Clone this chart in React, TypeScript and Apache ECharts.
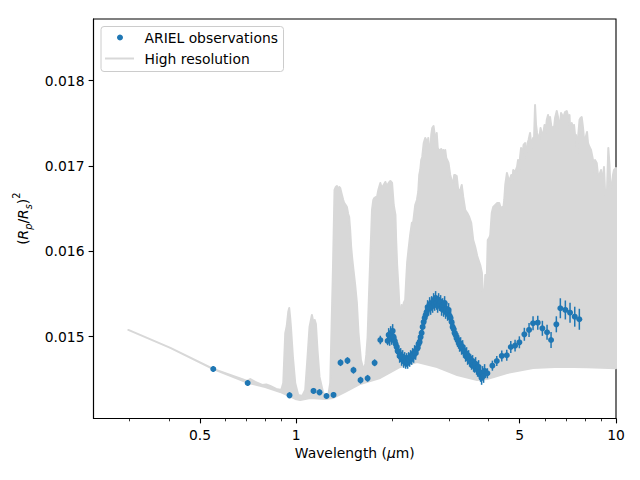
import React, { useEffect, useRef } from "react";
import * as echarts from "echarts";

// ---------- data ----------
const obsWavelength = [
  0.5503, 0.705, 0.9529, 1.1326, 1.1826, 1.2437, 1.3081, 1.3757, 1.4464, 1.5102, 1.589, 1.6718, 1.7584, 1.8323, 1.9316,
  1.9457, 1.9597, 1.9739, 1.9881, 2.0025, 2.0169, 2.0315, 2.0461, 2.0609, 2.0758, 2.0907, 2.1058, 2.121, 2.1363, 2.1518,
  2.1673, 2.1829, 2.1987, 2.2146, 2.2305, 2.2466, 2.2629, 2.2792, 2.2956, 2.3122, 2.3289, 2.3457, 2.3627, 2.3797, 2.3969,
  2.4142, 2.4317, 2.4492, 2.4669, 2.4847, 2.5027, 2.5207, 2.5389, 2.5573, 2.5757, 2.5943, 2.6131, 2.632, 2.651, 2.6701,
  2.6894, 2.7088, 2.7284, 2.7481, 2.768, 2.788, 2.8081, 2.8284, 2.8488, 2.8694, 2.8901, 2.911, 2.932, 2.9533, 2.9746,
  2.9961, 3.0177, 3.0395, 3.0615, 3.0836, 3.1059, 3.1283, 3.1509, 3.1737, 3.1966, 3.2197, 3.243, 3.2664, 3.29, 3.3138,
  3.3377, 3.3618, 3.3861, 3.4105, 3.4352, 3.46, 3.485, 3.5101, 3.5355, 3.561, 3.5867, 3.6126, 3.6387, 3.6649, 3.6914,
  3.7181, 3.7449, 3.772, 3.7992, 3.8266, 3.8543, 3.8821,
  3.9612, 4.1066, 4.2383, 4.3938, 4.5545, 4.6877, 4.835, 4.987, 5.169, 5.347, 5.503, 5.693, 5.885, 6.087, 6.265, 6.508,
  6.698, 6.944, 7.182, 7.43, 7.68,
];
const obsDepth = [
  0.014621, 0.014457, 0.014313, 0.014364, 0.014348, 0.014305, 0.014317, 0.014695, 0.014719, 0.014607, 0.01449, 0.014512,
  0.014694, 0.014961, 0.01495,
  0.01502, 0.014973, 0.015043, 0.014985, 0.015067, 0.014996, 0.01495, 0.014914, 0.014879, 0.014832, 0.014821, 0.014774,
  0.014786, 0.014739, 0.014762, 0.014715, 0.014739, 0.014704, 0.014727, 0.014704, 0.014739, 0.014727, 0.014762, 0.01475,
  0.014786, 0.014774, 0.014821, 0.014809, 0.014856, 0.014868, 0.014914, 0.014938, 0.014996, 0.015043, 0.015114, 0.015172,
  0.015219, 0.015254, 0.015289, 0.015348, 0.015325, 0.015383, 0.015336, 0.015395, 0.01536, 0.01543, 0.015383, 0.015454,
  0.015395, 0.01536, 0.01543, 0.015383, 0.015407, 0.015325, 0.015371, 0.015313, 0.015395, 0.015289, 0.015325, 0.015266,
  0.015313, 0.015243, 0.015219, 0.015172, 0.015114, 0.01509, 0.015043, 0.01502, 0.014985, 0.014961, 0.014938, 0.014903,
  0.014914, 0.014868, 0.014879, 0.014832, 0.014821, 0.014786, 0.014797, 0.01475, 0.014762, 0.014727, 0.014715, 0.014692,
  0.014704, 0.014668, 0.014657, 0.01468, 0.014633, 0.01461, 0.014645, 0.014586, 0.014551, 0.014516, 0.014575, 0.014539,
  0.014598,
  0.014571, 0.01466, 0.014715, 0.014774, 0.014782, 0.014879, 0.014895, 0.014934, 0.015028, 0.015079, 0.015157, 0.015164,
  0.015098, 0.015052, 0.014961, 0.015145, 0.015333, 0.015313, 0.015281, 0.015234, 0.015204,
];
const obsError = [
  0.000035, 0.000035, 0.000035, 0.000035, 0.000035, 0.000035, 0.000035, 0.00004, 0.00004, 0.00004, 0.00004, 0.00004,
  0.00004, 0.00005, 0.00005,
  0.00008, 0.00008, 0.00008, 0.00008, 0.00008, 0.00008, 0.00008, 0.00008, 0.00008, 0.00008, 0.00008, 0.00008, 0.00008,
  0.00008, 0.00008, 0.00008, 0.00008, 0.00008, 0.00008, 0.00008, 0.00008, 0.00008, 0.00008, 0.00008, 0.00008, 0.00008,
  0.00008, 0.00008, 0.00008, 0.00008, 0.00008, 0.00008, 0.00008, 0.00008, 0.00008, 0.00008, 0.00008, 0.00008, 0.00008,
  0.00008, 0.00008, 0.00008, 0.00008, 0.00008, 0.00008, 0.00008, 0.00008, 0.00008, 0.00008, 0.00008, 0.00008, 0.00008,
  0.00008, 0.00008, 0.00008, 0.00008, 0.00008, 0.00008, 0.00008, 0.00008, 0.00008, 0.00008, 0.00008, 0.00008, 0.00008,
  0.00008, 0.00008, 0.00008, 0.00008, 0.00008, 0.00008, 0.00008, 0.00008, 0.00008, 0.00008, 0.00008, 0.00008, 0.00008,
  0.00008, 0.00008, 0.00008, 0.00008, 0.00008, 0.00008, 0.00008, 0.00008, 0.00008, 0.00008, 0.00008, 0.00008, 0.00008,
  0.00008, 0.00008, 0.00008, 0.00008, 0.00008, 0.00008,
  0.000059, 0.000059, 0.000059, 0.000064, 0.000064, 0.00007, 0.00007, 0.00007, 0.000076, 0.000082, 0.000082, 0.000082,
  0.000088, 0.000088, 0.000094, 0.000094, 0.000117, 0.000111, 0.000117, 0.000117, 0.000123,
];

// High-resolution spectrum: upper and lower envelope of the dense line
const hiresUpperWavelength = [
  0.2985, 0.404, 0.5503, 0.703, 0.7182, 0.7446, 0.783, 0.8058, 0.8292, 0.866, 0.8977, 0.9108, 0.924, 0.934, 0.9441,
  0.9509, 0.9577, 0.9626, 0.9765, 0.9928, 1.0145, 1.0441, 1.0669, 1.0847, 1.1004, 1.1196, 1.1326, 1.1424, 1.1523,
  1.1657, 1.1826, 1.2144, 1.2589, 1.2774, 1.3025, 1.31, 1.3176, 1.3291, 1.3406, 1.3532, 1.363, 1.3728, 1.3898, 1.403,
  1.4125, 1.428, 1.4403, 1.4537, 1.4642, 1.4747, 1.4854, 1.4962, 1.5102, 1.5289, 1.5479, 1.566, 1.5936, 1.6241, 1.6443,
  1.6562, 1.6718, 1.6864, 1.7047, 1.717, 1.7257, 1.742, 1.7546, 1.7737, 1.7891, 1.8061, 1.8323, 1.8522, 1.8764, 1.8997,
  1.9203, 1.9456, 1.9698, 1.9944, 2.0179, 2.0431, 2.0535, 2.0683, 2.0878, 2.1059, 2.1212, 2.1365, 2.1519, 2.1675,
  2.1912, 2.207, 2.2229, 2.2439, 2.2716, 2.2998, 2.3216, 2.3554, 2.3846, 2.4072, 2.4246, 2.4421, 2.4597, 2.4775, 2.5045,
  2.5318, 2.5501, 2.5685, 2.5871, 2.6058, 2.6246, 2.6436, 2.6627, 2.6877, 2.711, 2.7306, 2.7503, 2.7702, 2.7902, 2.8206,
  2.841, 2.8615, 2.8822, 2.903, 2.924, 2.9451, 2.9663, 2.9943, 3.0312, 3.0641, 3.0974, 3.1198, 3.1423, 3.1764, 3.2109,
  3.2575, 3.2928, 3.3286, 3.3769, 3.4259, 3.4756, 3.526, 3.5771, 3.629, 3.6817, 3.7162, 3.762, 3.8085, 3.8445, 3.8723,
  3.9003, 3.9426, 3.9711, 4.0141, 4.0431, 4.087, 4.1313, 4.1912, 4.252, 4.3137, 4.3605, 4.4077, 4.4396, 4.4717, 4.504,
  4.5595, 4.6026, 4.6524, 4.7028, 4.7367, 4.771, 4.835, 4.904, 4.94, 4.976, 5.012, 5.048, 5.085, 5.14, 5.195, 5.252,
  5.29, 5.328, 5.386, 5.444, 5.503, 5.543, 5.583, 5.623, 5.664, 5.746, 5.809, 5.872, 5.927, 5.978, 6.021, 6.074, 6.131,
  6.197, 6.22, 6.287, 6.355, 6.401, 6.447, 6.527, 6.588, 6.66, 6.732, 6.781, 6.83, 6.879, 6.929, 7.014, 7.08, 7.156,
  7.208, 7.271, 7.339, 7.392, 7.446, 7.499, 7.553, 7.608, 7.69, 7.746, 7.813, 7.887, 7.972, 8.058, 8.117, 8.175, 8.264,
  8.354, 8.414, 8.475, 8.536, 8.598, 8.703, 8.785, 8.849, 8.913, 8.977, 9.042, 9.107, 9.173, 9.239, 9.306, 9.373, 9.461,
  9.543, 9.612, 9.695, 9.786, 9.857, 10.0,
];
const hiresUpperDepth = [
  0.015079, 0.014868, 0.014621, 0.014481, 0.014504, 0.014469, 0.014434, 0.01444, 0.014422, 0.014387, 0.014376, 0.014457,
  0.01504, 0.015125, 0.015289, 0.015336, 0.015219, 0.015114, 0.014762, 0.014457, 0.014317, 0.014305, 0.014376, 0.014762,
  0.015114, 0.015254, 0.015161, 0.015196, 0.015149, 0.014844, 0.014528, 0.01434, 0.014305, 0.014457, 0.015782, 0.016251,
  0.016719, 0.016754, 0.016766, 0.016719, 0.016754, 0.016743, 0.016661, 0.016602, 0.016567, 0.016543, 0.01652, 0.016438,
  0.016403, 0.016251, 0.016051, 0.015922, 0.015782, 0.015606, 0.015395, 0.015043, 0.014727, 0.01461, 0.01468, 0.014786,
  0.014996, 0.01543, 0.015934, 0.016251, 0.016485, 0.016602, 0.016625, 0.016637, 0.016637, 0.016719, 0.016801,
  0.016743, 0.016778, 0.016813, 0.016766, 0.016801, 0.016825, 0.016801, 0.016543, 0.016426, 0.016133, 0.01584,
  0.015582, 0.015313, 0.015219, 0.015371, 0.015219, 0.015395, 0.01543, 0.015665, 0.015875, 0.016016, 0.016192,
  0.016333, 0.016344, 0.016543, 0.016602, 0.016696, 0.016895, 0.016953, 0.017071, 0.017106, 0.01727, 0.017329,
  0.017305, 0.017165, 0.017329, 0.017188, 0.017153, 0.017364, 0.017446, 0.017469, 0.017364, 0.01727, 0.017387,
  0.017212, 0.017188, 0.017188, 0.0172, 0.017165, 0.017188, 0.017071, 0.017188, 0.017094, 0.017071, 0.017036,
  0.016895, 0.016825, 0.016813, 0.016895, 0.016895, 0.016883, 0.016719, 0.016719, 0.016778, 0.016637, 0.016485,
  0.01645, 0.016403, 0.016333, 0.016133, 0.016051, 0.015946, 0.015899, 0.01584, 0.015747, 0.01543, 0.015395, 0.015723,
  0.015665, 0.016133, 0.016157, 0.016192, 0.01645, 0.01652, 0.016543, 0.016567, 0.016567, 0.016508, 0.01652, 0.016497,
  0.016602, 0.016778, 0.016918, 0.01686, 0.016836, 0.016895, 0.016801, 0.016953, 0.01693, 0.016989, 0.017071, 0.016918,
  0.017106, 0.017212, 0.017094, 0.017247, 0.01727, 0.017094, 0.01727, 0.017305, 0.017387, 0.017212, 0.017329, 0.017329,
  0.017715, 0.017481, 0.017387, 0.017305, 0.017446, 0.017364, 0.017387, 0.017481, 0.017375, 0.017539, 0.017598,
  0.017446, 0.017574, 0.017446, 0.017457, 0.017446, 0.017563, 0.017645, 0.017574, 0.017422, 0.017621, 0.017598,
  0.017481, 0.017598, 0.017633, 0.017645, 0.017586, 0.017598, 0.017305, 0.017504, 0.017457, 0.017481, 0.017364,
  0.017364, 0.01713, 0.017329, 0.017539, 0.017563, 0.017574, 0.017446, 0.017247, 0.017352, 0.017399, 0.01727, 0.017223,
  0.017188, 0.01713, 0.017071, 0.01693, 0.017071, 0.017036, 0.016895, 0.01686, 0.016918, 0.016953, 0.016836, 0.016883,
  0.016989, 0.016719, 0.016649, 0.016719, 0.017212, 0.017012, 0.016743, 0.016754, 0.016895, 0.016953, 0.016977,
];
const hiresLowerWavelength = [
  0.2985, 0.404, 0.5503, 0.703, 0.8, 0.891, 0.993, 1.029, 1.106, 1.232, 1.305, 1.422, 1.585, 1.83, 2.113, 2.388, 2.758,
  3.186, 3.678, 3.953, 4.563, 5.504, 6.683, 8.11, 10.0,
];
const hiresLowerDepth = [
  0.015079, 0.014868, 0.014621, 0.014461, 0.014411, 0.014352, 0.01427, 0.014258, 0.014282, 0.01427, 0.014282, 0.014352,
  0.014446, 0.014516, 0.014645, 0.014704, 0.014645, 0.014551, 0.014493, 0.014504, 0.014575, 0.014633, 0.014648,
  0.014641, 0.01463,
];

const xMajorTicks = [0.5, 1, 5, 10];
const xMinorTicks = [0.3, 0.4, 0.6, 0.7, 0.8, 0.9, 2, 3, 4, 6, 7, 8, 9];
const yTicks = [0.015, 0.016, 0.017, 0.018];

const seriesNames = ["ARIEL observations", "High resolution"];

// ---------- styling ----------
const FONT = "DejaVu Sans";
const FS = 13.89;
const BLUE = "#1f77b4";
const GRAY = "#d8d8d8";

const X_MIN = 0.2323;
const X_MAX = 10;
const Y_MIN = 0.014041;
const Y_MAX = 0.018723;

export default function App() {
  const ref = useRef<HTMLDivElement>(null);

  useEffect(() => {
    if (!ref.current) return;
    const chart = echarts.init(ref.current, null, { renderer: "svg" });
    const lg = (v: number) => Math.log10(v);

    const obsData = obsWavelength.map((w, i) => [lg(w), obsDepth[i], obsError[i]]);
    const upperPts = hiresUpperWavelength.map((w, i) => [lg(w), hiresUpperDepth[i]]);
    const lowerPts = hiresLowerWavelength.map((w, i) => [lg(w), hiresLowerDepth[i]]);

    const xFormatter = (v: number) => {
      const w = Math.pow(10, v);
      return String(Math.round(w * 10) / 10);
    };

    const option: any = {
      animation: false,
      backgroundColor: "#ffffff",
      textStyle: { fontFamily: FONT },
      grid: {
        left: 93.5,
        top: 19,
        right: 24,
        bottom: 61.5,
        show: true,
        borderColor: "#000",
        borderWidth: 1.1,
        backgroundColor: "transparent",
        containLabel: false,
        outerBoundsMode: "none",
      },
      xAxis: [
        {
          type: "value",
          min: lg(X_MIN),
          max: lg(X_MAX),
          splitLine: { show: false },
          axisLine: { show: true, onZero: false, lineStyle: { color: "#000", width: 1.1 } },
          axisTick: {
            show: true,
            length: 4.9,
            lineStyle: { color: "#000", width: 1.1 },
            customValues: xMajorTicks.map(lg),
          },
          axisLabel: {
            show: true,
            customValues: xMajorTicks.map(lg),
            formatter: xFormatter,
            fontFamily: FONT,
            fontSize: FS,
            color: "#000",
            margin: 9,
            showMinLabel: true,
            showMaxLabel: true,
          },
          name: "Wavelength ({it|μ}m)",
          nameLocation: "middle",
          nameGap: 24,
          nameTextStyle: {
            fontFamily: FONT,
            fontSize: FS,
            color: "#000",
            rich: { it: { fontFamily: FONT, fontSize: FS, fontStyle: "italic", color: "#000" } },
          },
        },
        {
          type: "value",
          min: lg(X_MIN),
          max: lg(X_MAX),
          position: "bottom",
          splitLine: { show: false },
          axisLine: { show: false },
          axisTick: {
            show: true,
            length: 2.8,
            lineStyle: { color: "#000", width: 0.8 },
            customValues: xMinorTicks.map(lg),
          },
          axisLabel: { show: false },
        },
      ],
      yAxis: {
        type: "value",
        min: Y_MIN,
        max: Y_MAX,
        splitLine: { show: false },
        axisLine: { show: true, onZero: false, lineStyle: { color: "#000", width: 1.1 } },
        axisTick: {
          show: true,
          length: 4.9,
          lineStyle: { color: "#000", width: 1.1 },
          customValues: yTicks,
        },
        axisLabel: {
          customValues: yTicks,
          formatter: (v: number) => v.toFixed(3),
          fontFamily: FONT,
          fontSize: FS,
          color: "#000",
          margin: 9,
        },
        name: "{n|(}{i|R}{sub|p}{n|/}{i|R}{sub|s}{n|)}{sup|2}",
        nameLocation: "middle",
        nameRotate: 90,
        nameGap: 58,
        nameTextStyle: {
          fontFamily: FONT,
          fontSize: FS,
          color: "#000",
          rich: {
            n: { fontFamily: FONT, fontSize: FS, lineHeight: 22, color: "#000" },
            i: { fontFamily: FONT, fontSize: FS, lineHeight: 22, fontStyle: "italic", color: "#000" },
            sub: {
              fontFamily: FONT,
              fontSize: 9.7,
              lineHeight: 13,
              fontStyle: "italic",
              verticalAlign: "bottom",
              color: "#000",
            },
            sup: { fontFamily: FONT, fontSize: 9.7, lineHeight: 12, verticalAlign: "top", color: "#000" },
          },
        },
      },
      series: [
        {
          name: seriesNames[1],
          type: "custom",
          xAxisIndex: 0,
          yAxisIndex: 0,
          clip: true,
          z: 1,
          data: [[0, 0.015]],
          renderItem: (params: any, api: any) => {
            const pts = upperPts
              .map((p) => api.coord(p))
              .concat(lowerPts.slice().reverse().map((p) => api.coord(p)));
            return {
              type: "polygon",
              shape: { points: pts },
              style: { fill: GRAY, stroke: GRAY, lineWidth: 2, lineJoin: "round" },
              silent: true,
            };
          },
        },
        {
          name: seriesNames[0] + " errors",
          type: "custom",
          xAxisIndex: 0,
          yAxisIndex: 0,
          z: 3,
          data: obsData,
          renderItem: (params: any, api: any) => {
            const x = api.value(0);
            const y = api.value(1);
            const e = api.value(2);
            const p1 = api.coord([x, y - e]);
            const p2 = api.coord([x, y + e]);
            return {
              type: "line",
              shape: { x1: p1[0], y1: p1[1], x2: p2[0], y2: p2[1] },
              style: { stroke: BLUE, lineWidth: 1.5 },
            };
          },
        },
        {
          name: seriesNames[0],
          type: "scatter",
          xAxisIndex: 0,
          yAxisIndex: 0,
          z: 4,
          symbol: "circle",
          symbolSize: 6,
          itemStyle: { color: BLUE, opacity: 1 },
          data: obsData.map((d) => [d[0], d[1]]),
        },
      ],
      graphic: [
        {
          type: "group",
          left: 100.5,
          top: 26,
          z: 100,
          children: [
            {
              type: "rect",
              shape: { x: 0, y: 0, width: 182.5, height: 45, r: 3 },
              style: { fill: "rgba(255,255,255,0.8)", stroke: "#cccccc", lineWidth: 1 },
            },
            { type: "circle", shape: { cx: 19, cy: 11, r: 3 }, style: { fill: BLUE } },
            {
              type: "line",
              shape: { x1: 4, y1: 32, x2: 33, y2: 32 },
              style: { stroke: GRAY, lineWidth: 2 },
            },
            {
              type: "text",
              x: 43.5,
              y: 11,
              style: {
                text: seriesNames[0],
                fontFamily: FONT,
                fontSize: FS,
                fill: "#000",
                verticalAlign: "middle",
                align: "left",
              },
            },
            {
              type: "text",
              x: 43.5,
              y: 32,
              style: {
                text: seriesNames[1],
                fontFamily: FONT,
                fontSize: FS,
                fill: "#000",
                verticalAlign: "middle",
                align: "left",
              },
            },
          ],
        },
      ],
    };

    chart.setOption(option);
    return () => chart.dispose();
  }, []);

  return (
    <div
      ref={ref}
      style={{ position: "fixed", left: 0, top: 0, width: 640, height: 480, background: "#fff" }}
    />
  );
}
